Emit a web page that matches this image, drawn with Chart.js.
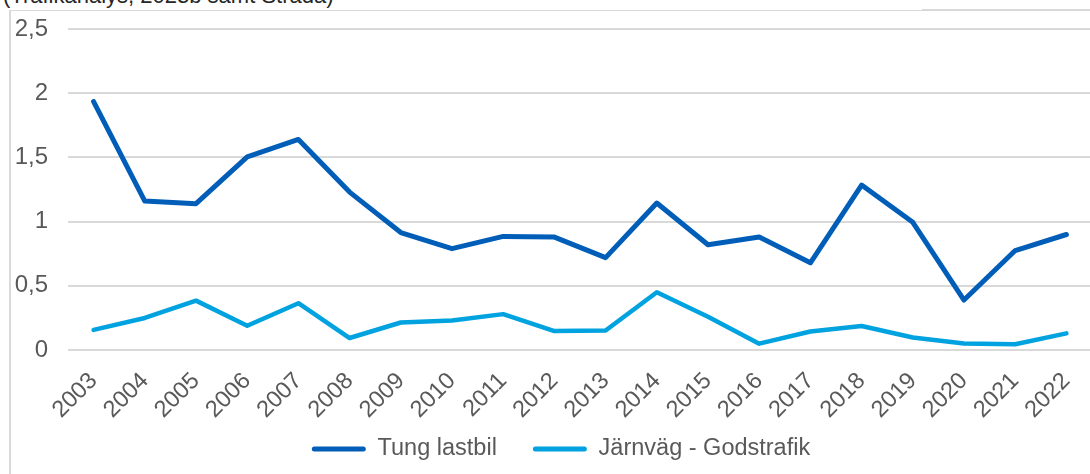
<!DOCTYPE html>
<html>
<head>
<meta charset="utf-8">
<script src="https://cdn.jsdelivr.net/npm/chart.js@4/dist/chart.umd.min.js"></script>
<style>
  html, body { margin: 0; padding: 0; background: #fff; overflow: hidden; }
  #wrap { position: relative; width: 1090px; height: 474px; overflow: hidden; }
  #src { position: absolute; left: 3px; top: -15px; font: 22px "Liberation Sans", Arial, sans-serif; color: #262626; line-height: 22px; white-space: nowrap; }
  #frameL { position: absolute; left: 9px; top: 10px; width: 2px; height: 470px; background: #d9d9d9; }
  #frameT1 { position: absolute; left: 9px; top: 10px; width: 913px; height: 1px; background: #d9d9d9; }
  #frameT2 { position: absolute; left: 922px; top: 9px; width: 200px; height: 2px; background: #d9d9d9; }
  #cv { position: absolute; left: 0; top: 0; }
</style>
</head>
<body>
<div id="wrap">
  <div id="src">(Trafikanalys, 2023b samt Strada)</div>
  <div id="frameL"></div>
  <div id="frameT1"></div>
  <div id="frameT2"></div>
  <div style="position:absolute;left:0;top:0;width:1092px;height:474px;">
    <canvas id="cv" width="1092" height="474"></canvas>
  </div>
</div>
<script>
const years = ["2003","2004","2005","2006","2007","2008","2009","2010","2011","2012","2013","2014","2015","2016","2017","2018","2019","2020","2021","2022"];
const tungLastbil = [1.935, 1.16, 1.14, 1.505, 1.64, 1.23, 0.915, 0.79, 0.885, 0.88, 0.72, 1.145, 0.82, 0.88, 0.68, 1.285, 0.995, 0.39, 0.775, 0.9];
const jarnvag = [0.157, 0.25, 0.385, 0.19, 0.365, 0.094, 0.215, 0.23, 0.28, 0.148, 0.152, 0.45, 0.26, 0.05, 0.145, 0.188, 0.098, 0.052, 0.046, 0.13];
const seriesNames = ["Tung lastbil", "Järnväg - Godstrafik"];
const yMin = 0, yMax = 2.5, yStep = 0.5;

const darkBlue = "#005EB8";
const lightBlue = "#00A2DF";
const textGray = "#595959";
const fontFam = '"Liberation Sans", Arial, sans-serif';
const legendFont = 23.5, legendPad = 36, legendCenterY = 449;

const legendPlace = {
  id: "legendPlace",
  afterLayout(chart) {
    const lg = chart.legend;
    if (!lg) return;
    lg.left += 15; lg.right += 15;
    lg.top = legendCenterY - legendPad - legendFont / 2;
    lg.bottom = chart.height;
    lg.height = lg.bottom - lg.top;
  }
};

new Chart(document.getElementById("cv"), {
  type: "line",
  data: {
    labels: years,
    datasets: [
      { label: seriesNames[0], data: tungLastbil, borderColor: darkBlue, backgroundColor: darkBlue, borderWidth: 5, pointRadius: 0, tension: 0, borderCapStyle: "round", borderJoinStyle: "round" },
      { label: seriesNames[1], data: jarnvag, borderColor: lightBlue, backgroundColor: lightBlue, borderWidth: 4.5, pointRadius: 0, tension: 0, borderCapStyle: "round", borderJoinStyle: "round" }
    ]
  },
  plugins: [legendPlace],
  options: {
    responsive: false,
    animation: false,
    events: [],
    layout: { padding: { top: 29, right: 0, bottom: 0, left: 0 } },
    plugins: {
      tooltip: { enabled: false },
      legend: {
        position: "bottom",
        maxHeight: 33,
        labels: {
          font: { size: legendFont, family: fontFam },
          color: textGray,
          boxWidth: 54,
          boxHeight: 5,
          padding: legendPad,
          generateLabels: (chart) => chart.data.datasets.map((ds, i) => ({
            text: ds.label, fillStyle: ds.borderColor, strokeStyle: ds.borderColor,
            lineWidth: 0, borderRadius: 2.5, fontColor: textGray, datasetIndex: i, hidden: false
          }))
        }
      }
    },
    scales: {
      x: {
        offset: true,
        afterFit: (s) => { s.paddingLeft = 0; s.paddingRight = 0; },
        grid: { display: false, drawTicks: false },
        border: { display: false },
        ticks: { font: { size: 23.5, family: fontFam }, color: textGray, maxRotation: 45, minRotation: 45, autoSkip: false, padding: 17 }
      },
      y: {
        min: yMin, max: yMax,
        afterFit: (s) => { s.width = 68; s.paddingTop = 0; s.paddingBottom = 0; },
        grid: { color: "#d9d9d9", lineWidth: 2, drawTicks: false },
        border: { display: false },
        ticks: {
          stepSize: yStep,
          padding: 20,
          font: { size: 24, family: fontFam },
          color: textGray,
          callback: (v) => String(Math.round(v * 10) / 10).replace(".", ",")
        }
      }
    }
  }
});
</script>
</body>
</html>
